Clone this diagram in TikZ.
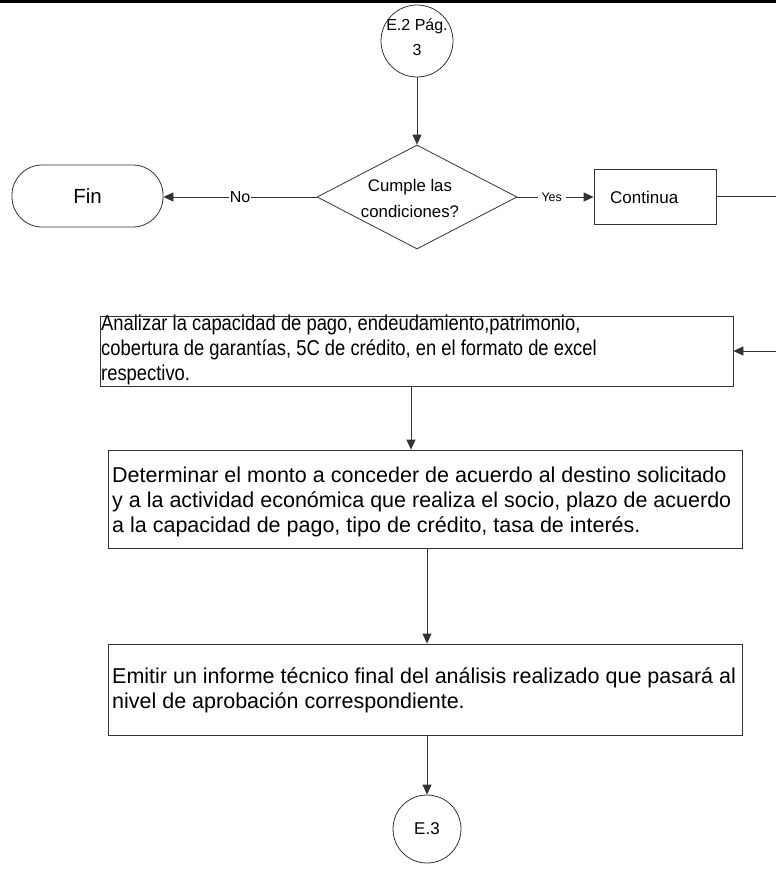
\documentclass[tikz,border=0pt]{standalone}
\usepackage{fontspec}
\setmainfont{Liberation Sans}
\usetikzlibrary{shapes.geometric,arrows.meta}
\begin{document}
\begin{tikzpicture}[x=1pt,y=-1pt,
  flow/.style={draw=black!80, line width=0.8pt},
  arr/.style={flow, -{Triangle[length=10pt,width=9pt]}},
  box/.style={draw=black!80, rectangle, inner sep=0pt, line width=0.8pt},
  txt/.style={anchor=west, inner sep=0pt, align=left, font=\fontsize{21.5}{25}\selectfont},
  conn/.style={draw=black!80, circle, inner sep=0pt, line width=0.8pt, align=center},
  lbl/.style={fill=white, inner sep=1pt}
]
\useasboundingbox (0,0) rectangle (776,886);
% page header rule
\draw[line width=3.5pt] (0,1.5) -- (776,1.5);

% off-page connector in
\node[conn, minimum size=72pt] (e2) at (417,41) {};
\node[align=center, inner sep=0pt, font=\fontsize{16}{25}\selectfont] (e2text) at (417,37) {E.2 Pág.\\3};

% decision
\node[diamond, draw=black!80, line width=0.8pt, minimum width=200pt, minimum height=104pt, inner sep=0pt] (dec) at (417,197) {};
\node[align=center, inner sep=0pt, font=\fontsize{16.8}{26}\selectfont] (dectext) at (410,198) {Cumple las\\condiciones?};

% terminator
\node[draw=black!80, line width=0.8pt, rounded corners=30pt, minimum width=151pt, minimum height=62pt, font=\fontsize{20.5}{24}\selectfont] (fin) at (87.5,196) {Fin};

% continue box
\node[box, minimum width=122pt, minimum height=55pt] (cont) at (655,196.5) {};
\node[anchor=west, inner sep=0pt, font=\fontsize{17}{20}\selectfont] (conttext) at (610,197) {Continua};

% process boxes
\node[box, minimum width=633pt, minimum height=70pt] (anabox) at (416.5,351) {};
\node[txt] (anatext) at (101,350) {\scalebox{0.855}[1]{\begin{tabular}{@{}l@{}}Analizar la capacidad de pago, endeudamiento,patrimonio,\\cobertura de garantías, 5C de crédito, en el formato de excel\\respectivo.\end{tabular}}};

\node[box, minimum width=634pt, minimum height=98pt] (detbox) at (425,499) {};
\node[txt] (dettext) at (112,502) {Determinar el monto a conceder de acuerdo al destino solicitado\\y a la actividad económica que realiza el socio, plazo de acuerdo\\a la capacidad de pago, tipo de crédito, tasa de interés.};

\node[box, minimum width=634pt, minimum height=91pt] (emibox) at (425,689.5) {};
\node[txt] (emitext) at (112,690) {Emitir un informe técnico final del análisis realizado que pasará al\\nivel de aprobación correspondiente.};

% off-page connector out
\node[conn, minimum size=68pt, font=\fontsize{17}{20}\selectfont] (e3) at (427,829) {E.3};

% connectors
\coordinate (rt) at (790,196.5);
\draw[arr] (e2) -- (dec);
\draw[arr] (dec.west) -- node[lbl, font=\fontsize{16}{18}\selectfont] (nolbl) {No} (dec.west -| fin.east);
\draw[arr] (dec.east) -- node[lbl, pos=0.45, inner xsep=4pt, font=\fontsize{12.5}{14}\selectfont] (yeslbl) {Yes} (dec.east -| cont.west);
\draw[arr] (cont.east) -- (rt) |- (anabox.east);
\draw[arr] ([xshift=-5.5pt]anabox.south) -- ([xshift=-5.5pt]anabox.south |- detbox.north);
\draw[arr] ([xshift=2pt]detbox.south) -- ([xshift=2pt]detbox.south |- emibox.north);
\draw[arr] (emibox.south -| e3.north) -- (e3.north);
\end{tikzpicture}
\end{document}
